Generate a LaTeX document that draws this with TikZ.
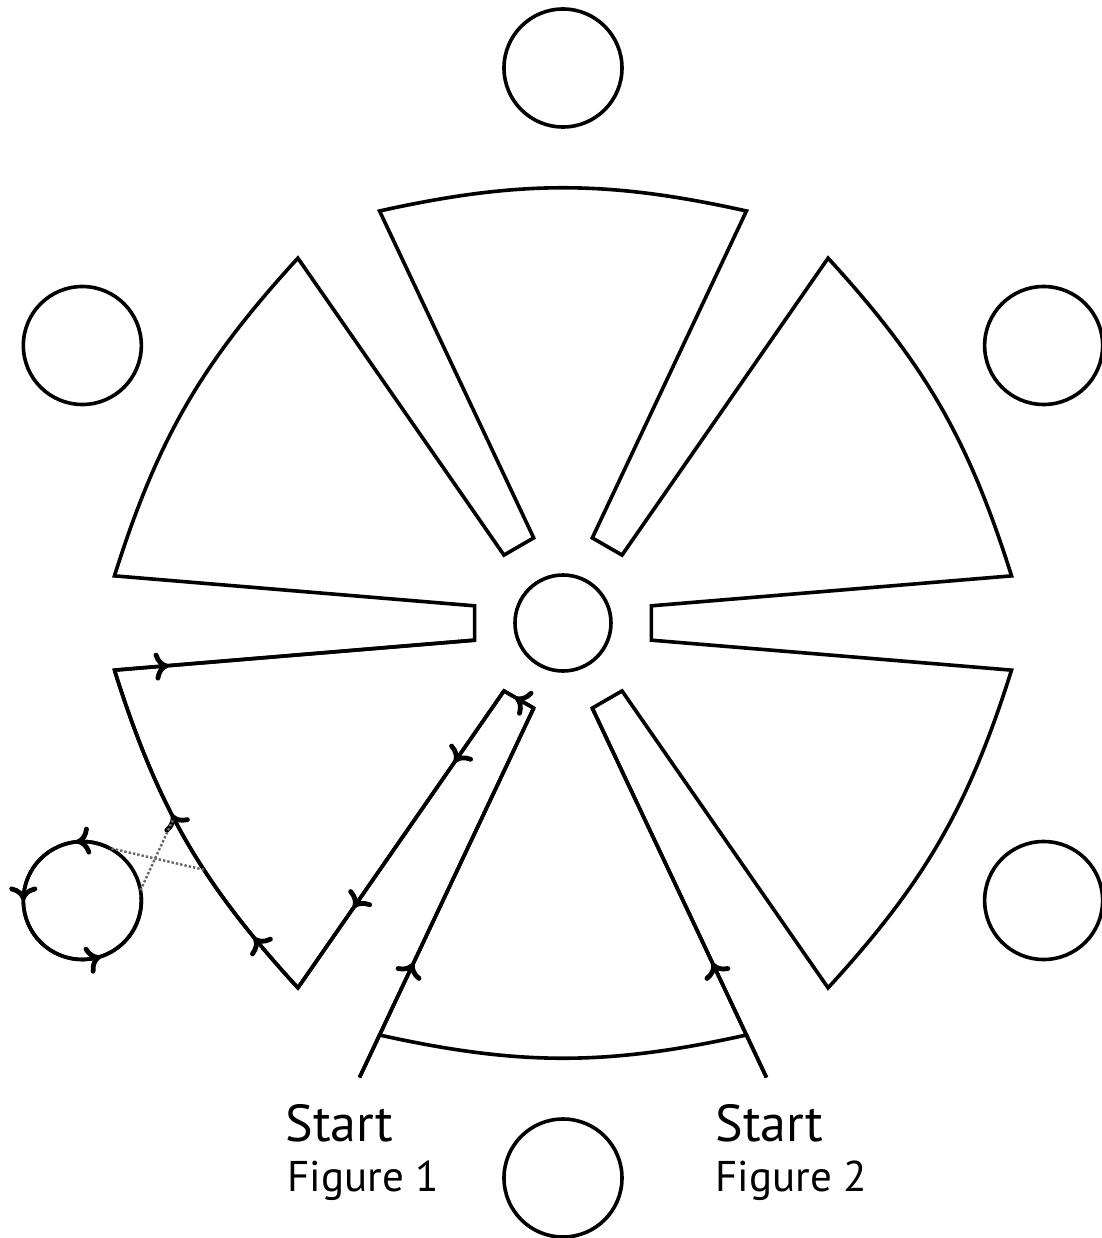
\documentclass[tikz,border=0pt]{standalone}
\usepackage{fontspec}
\setmainfont{PT Sans}
\usetikzlibrary{arrows.meta,calc,decorations.markings}
\tikzset{
  outline/.style={line width=1.8pt, line join=miter, black},
  circ/.style={circle, draw, line width=1.8pt, inner sep=0pt, minimum size=59pt},
  hub/.style={circle, draw, line width=1.8pt, inner sep=0pt, minimum size=48pt},
  walk/.style={line width=1.8pt},
  arr/.style={postaction={decorate, decoration={markings,
      mark=at position #1 with {\arrow{Computer Modern Rightarrow[length=7pt,width=14pt,line width=2.4pt]}}}}},
  hop/.style={densely dotted, black!60, line width=1.2pt},
  lbig/.style={anchor=base west, inner sep=0pt, font=\fontsize{26}{26}\selectfont},
  lsmall/.style={anchor=base west, inner sep=0pt, font=\fontsize{21.5}{21.5}\selectfont},
}
\begin{document}
\begin{tikzpicture}[x=0.5pt, y=0.5pt]
\useasboundingbox (-563,-615) rectangle (539,623);
% key points of the six sectors
\foreach \k in {0,...,5} {
  \coordinate (A\k) at ({114-60*\k}:451);
  \coordinate (B\k) at ({66-60*\k}:451);
  \coordinate (C\k) at ({71-60*\k}:90);
  \coordinate (D\k) at ({49-60*\k}:90);
  \node[circ] (oc\k) at ({90-60*\k}:555) {};
}
\node[hub] (hub) at (0,0) {};
% the outline
\draw[outline]
  (A0) to[bend left=12.5] (B0) -- (C0) -- (D0)
  -- (A1) to[bend left=12.5] (B1) -- (C1) -- (D1)
  -- (A2) to[bend left=12.5] (B2) -- (C2) -- (D2)
  -- (A3) to[bend left=12.5] (B3) -- (C3) -- (D3)
  -- (A4) to[bend left=12.5] (B4) -- (C4) -- (D4)
  -- (A5) to[bend left=12.5] (B5) -- (C5) -- (D5) -- cycle;
% start leads
\coordinate (E1) at ($(C3)!1.13!(B3)$);
\coordinate (E2) at ($(D2)!1.13!(A3)$);
\draw[outline] (B3) -- (E1);
\draw[outline] (A3) -- (E2);
% figure 1 walk
\draw[walk, arr=0.31] (E1) -- (C3);
\draw[walk, arr=0.31] (E2) -- (D2);
\draw[walk, arr=0.62] (C3) -- (D3);
\draw[walk, arr=0.24, arr=0.73] (D3) -- (A4);
\draw[walk, arr=0.18, arr=0.58] (A4) to[bend left=12.5]
   coordinate[pos=0.40] (Q1) coordinate[pos=0.575] (Q2) (B4);
\draw[walk, arr=0.15] (B4) -- (C4);
% detour round the lower-left circle
\coordinate (T1) at ($(oc4)+(63:59)$);
\coordinate (T2) at ($(oc4)+(10:59)$);
\draw[hop] (Q1) -- (T1);
\draw[hop] (T2) -- (Q2);
\draw[walk, arr=0.11, arr=0.39, arr=0.75] (T1) arc[start angle=63, end angle=363, radius=29.5pt];
% labels
\node[lbig] (s1) at (-278,-518.7) {Start};
\node[lsmall] (f1) at (-276,-568.7) {Figure 1};
\node[lbig] (s2) at (152,-518.7) {Start};
\node[lsmall] (f2) at (152,-568.7) {Figure 2};
\end{tikzpicture}
\end{document}
